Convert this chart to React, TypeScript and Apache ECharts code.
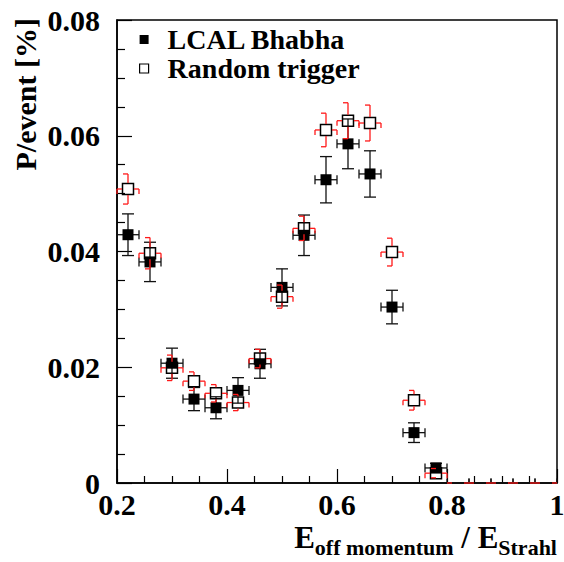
import React, { useEffect, useRef } from "react";
import * as echarts from "echarts";

const xCenters = [0.22, 0.26, 0.3, 0.34, 0.38, 0.42, 0.46, 0.5, 0.54, 0.58, 0.62, 0.66, 0.7, 0.74, 0.78, 0.82, 0.86, 0.9, 0.94, 0.98];
const binHalfWidth = 0.02;
const lcalBhabha = [0.0429, 0.0382, 0.0207, 0.0145, 0.013, 0.016, 0.0206, 0.0338, 0.0428, 0.0524, 0.0586, 0.0534, 0.0304, 0.0087, 0.0026, 0, 0, 0, 0, 0];
const lcalBhabhaErr = [0.0036, 0.0034, 0.0026, 0.002, 0.0019, 0.0022, 0.0025, 0.0032, 0.0035, 0.004, 0.0043, 0.004, 0.0029, 0.0017, 0.0008, 0, 0, 0, 0, 0];
const randomTrigger = [0.0508, 0.0397, 0.0199, 0.0176, 0.0155, 0.0139, 0.0215, 0.0322, 0.044, 0.061, 0.0626, 0.0622, 0.0399, 0.0143, 0.0017, 0, 0, 0, 0, 0];
const randomTriggerSys = [0.0026, 0.0027, 0.0022, 0.0016, 0.0015, 0.0014, 0.0016, 0.002, 0.0021, 0.0029, 0.0031, 0.0031, 0.0024, 0.0017, 0.0008, 0, 0, 0, 0, 0];
const seriesNames = ["LCAL Bhabha", "Random trigger"];

const FONT = "Liberation Serif";

function line(x1: number, y1: number, x2: number, y2: number, stroke: string, w: number) {
  return { type: "line", shape: { x1, y1, x2, y2 }, style: { stroke, lineWidth: w }, silent: true };
}

function blackErrors(params: any, api: any) {
  const x = api.value(0), y = api.value(1), e = api.value(2);
  const c = api.coord([x, y]);
  const base = api.coord([x, 0])[1];
  const xl = api.coord([x - binHalfWidth, y])[0];
  const xr = api.coord([x + binHalfWidth, y])[0];
  const kids: any[] = [];
  const col = "#111", w = 1.3;
  if (e > 0) {
    const yt = api.coord([x, y + e])[1];
    const yb = api.coord([x, y - e])[1];
    kids.push(line(c[0], yt, c[0], yb, col, w));
    kids.push(line(c[0] - 6, yt, c[0] + 6, yt, col, w));
    kids.push(line(c[0] - 6, yb, c[0] + 6, yb, col, w));
  }
  kids.push(line(xl, c[1], xr, c[1], col, w));
  kids.push(line(xl, c[1] - 4.5, xl, Math.min(c[1] + 4.5, base), col, w));
  kids.push(line(xr, c[1] - 4.5, xr, Math.min(c[1] + 4.5, base), col, w));
  return { type: "group", children: kids };
}

function redBrackets(params: any, api: any) {
  const x = api.value(0), y = api.value(1), s = api.value(2);
  const c = api.coord([x, y]);
  const base = api.coord([x, 0])[1];
  const xl = api.coord([x - binHalfWidth, y])[0];
  const xr = api.coord([x + binHalfWidth, y])[0];
  const half = 6, cap = 5;
  const col = "#ff1a1a", w = 1.3;
  const kids: any[] = [];
  const yt = api.coord([x, y + s])[1];
  const yb = Math.min(api.coord([x, y - s])[1], base);
  if (y > 0) {
    if (yt < c[1] - half) kids.push(line(c[0], yt, c[0], c[1] - half, col, w));
    kids.push(line(c[0] - cap, yt, c[0], yt, col, w));
    if (yb > c[1] + half) kids.push(line(c[0], c[1] + half, c[0], yb, col, w));
    kids.push(line(c[0] - cap, yb, c[0], yb, col, w));
  }
  kids.push(line(xl, c[1], c[0] - half, c[1], col, w));
  kids.push(line(xl, c[1], xl, Math.min(c[1] + cap, base), col, w));
  kids.push(line(c[0] + half, c[1], xr, c[1], col, w));
  kids.push(line(xr, c[1], xr, Math.min(c[1] + cap, base), col, w));
  return { type: "group", children: kids };
}

export default function App() {
  const ref = useRef<HTMLDivElement>(null);
  useEffect(() => {
    if (!ref.current) return;
    const chart = echarts.init(ref.current, null, { renderer: "svg" });
    const lcalPts = xCenters.map((x, i) => [x, lcalBhabha[i]]).filter((p) => p[1] > 0);
    const randPts = xCenters.map((x, i) => [x, randomTrigger[i]]).filter((p) => p[1] > 0);
    chart.setOption({
      animation: false,
      backgroundColor: "#fff",
      textStyle: { fontFamily: FONT },
      grid: {
        left: 117, top: 20, right: 7, bottom: 79,
        show: true, borderColor: "#000", borderWidth: 1.5, backgroundColor: "transparent",
        containLabel: false, outerBoundsMode: "none",
      },
      legend: {
        orient: "vertical", left: 139, top: 25, padding: 0, itemGap: 0,
        itemWidth: 9, itemHeight: 9, selectedMode: false,
        textStyle: { fontFamily: FONT, fontWeight: "bold", fontSize: 28, color: "#000", lineHeight: 29, padding: [0, 0, 0, 14] },
        data: [
          { name: seriesNames[0], icon: "rect", itemStyle: { color: "#000", borderWidth: 0 } },
          { name: seriesNames[1], icon: "rect", itemStyle: { color: "#fff", borderColor: "#000", borderWidth: 1.2 } },
        ],
      },
      xAxis: {
        type: "value", min: 0.2, max: 1.0, interval: 0.2,
        axisLine: { show: true, lineStyle: { color: "#000", width: 1.5 } },
        axisTick: { show: true, inside: true, length: 14, lineStyle: { color: "#000", width: 1.2 } },
        minorTick: { show: true, splitNumber: 4, length: 7, lineStyle: { color: "#000", width: 1.2 } },
        splitLine: { show: false },
        axisLabel: {
          margin: 6, color: "#000", fontFamily: FONT, fontWeight: "bold", fontSize: 30,
          showMaxLabel: true, showMinLabel: true,
          formatter: (v: number) => (Math.abs(v - 1) < 1e-9 ? "1" : v.toFixed(1)),
        },
      },
      yAxis: {
        type: "value", min: 0, max: 0.08, interval: 0.02,
        axisLine: { show: true, lineStyle: { color: "#000", width: 1.5 } },
        axisTick: { show: true, inside: true, length: 15, lineStyle: { color: "#000", width: 1.2 } },
        minorTick: { show: true, splitNumber: 4, length: 8, lineStyle: { color: "#000", width: 1.2 } },
        splitLine: { show: false },
        axisLabel: {
          margin: 17, color: "#000", fontFamily: FONT, fontWeight: "bold", fontSize: 30,
          formatter: (v: number) => (v === 0 ? "0" : v.toFixed(2)),
        },
      },
      graphic: [
        {
          type: "text", x: 25, y: 18, rotation: Math.PI / 2, silent: true,
          style: { text: "P/event [%]", fontFamily: FONT, fontWeight: "bold", fontSize: 30, fill: "#000", align: "right", verticalAlign: "middle" },
        },
        {
          type: "text", x: 557, y: 522, silent: true,
          style: {
            text: "{e|E}{s|off momentum}{e| / E}{s|Strahl}",
            align: "right", verticalAlign: "top",
            rich: {
              e: { fontFamily: FONT, fontWeight: "bold", fontSize: 31, lineHeight: 31, verticalAlign: "top", fill: "#000" },
              s: { fontFamily: FONT, fontWeight: "bold", fontSize: 22, lineHeight: 22, verticalAlign: "top", padding: [14, 0, 0, 0], fill: "#000" },
            },
          },
        },
      ],
      series: [
        {
          type: "custom", name: "lcalErr", z: 2, silent: true,
          renderItem: blackErrors,
          data: xCenters.map((x, i) => [x, lcalBhabha[i], lcalBhabhaErr[i]]),
        },
        {
          type: "scatter", name: seriesNames[0], z: 3, silent: true,
          symbol: "rect", symbolSize: 11,
          itemStyle: { color: "#000", opacity: 1 },
          data: lcalPts,
        },
        {
          type: "scatter", name: seriesNames[1], z: 4, silent: true,
          symbol: "rect", symbolSize: 11,
          itemStyle: { color: "rgba(255,255,255,0)", borderColor: "#000", borderWidth: 1.5, opacity: 1 },
          data: randPts,
        },
        {
          type: "custom", name: "randSys", z: 5, silent: true,
          renderItem: redBrackets,
          data: xCenters.map((x, i) => [x, randomTrigger[i], randomTriggerSys[i]]),
        },
      ],
    });
    return () => chart.dispose();
  }, []);
  return <div ref={ref} style={{ position: "fixed", left: 0, top: 0, width: 564, height: 562, background: "#fff" }} />;
}
